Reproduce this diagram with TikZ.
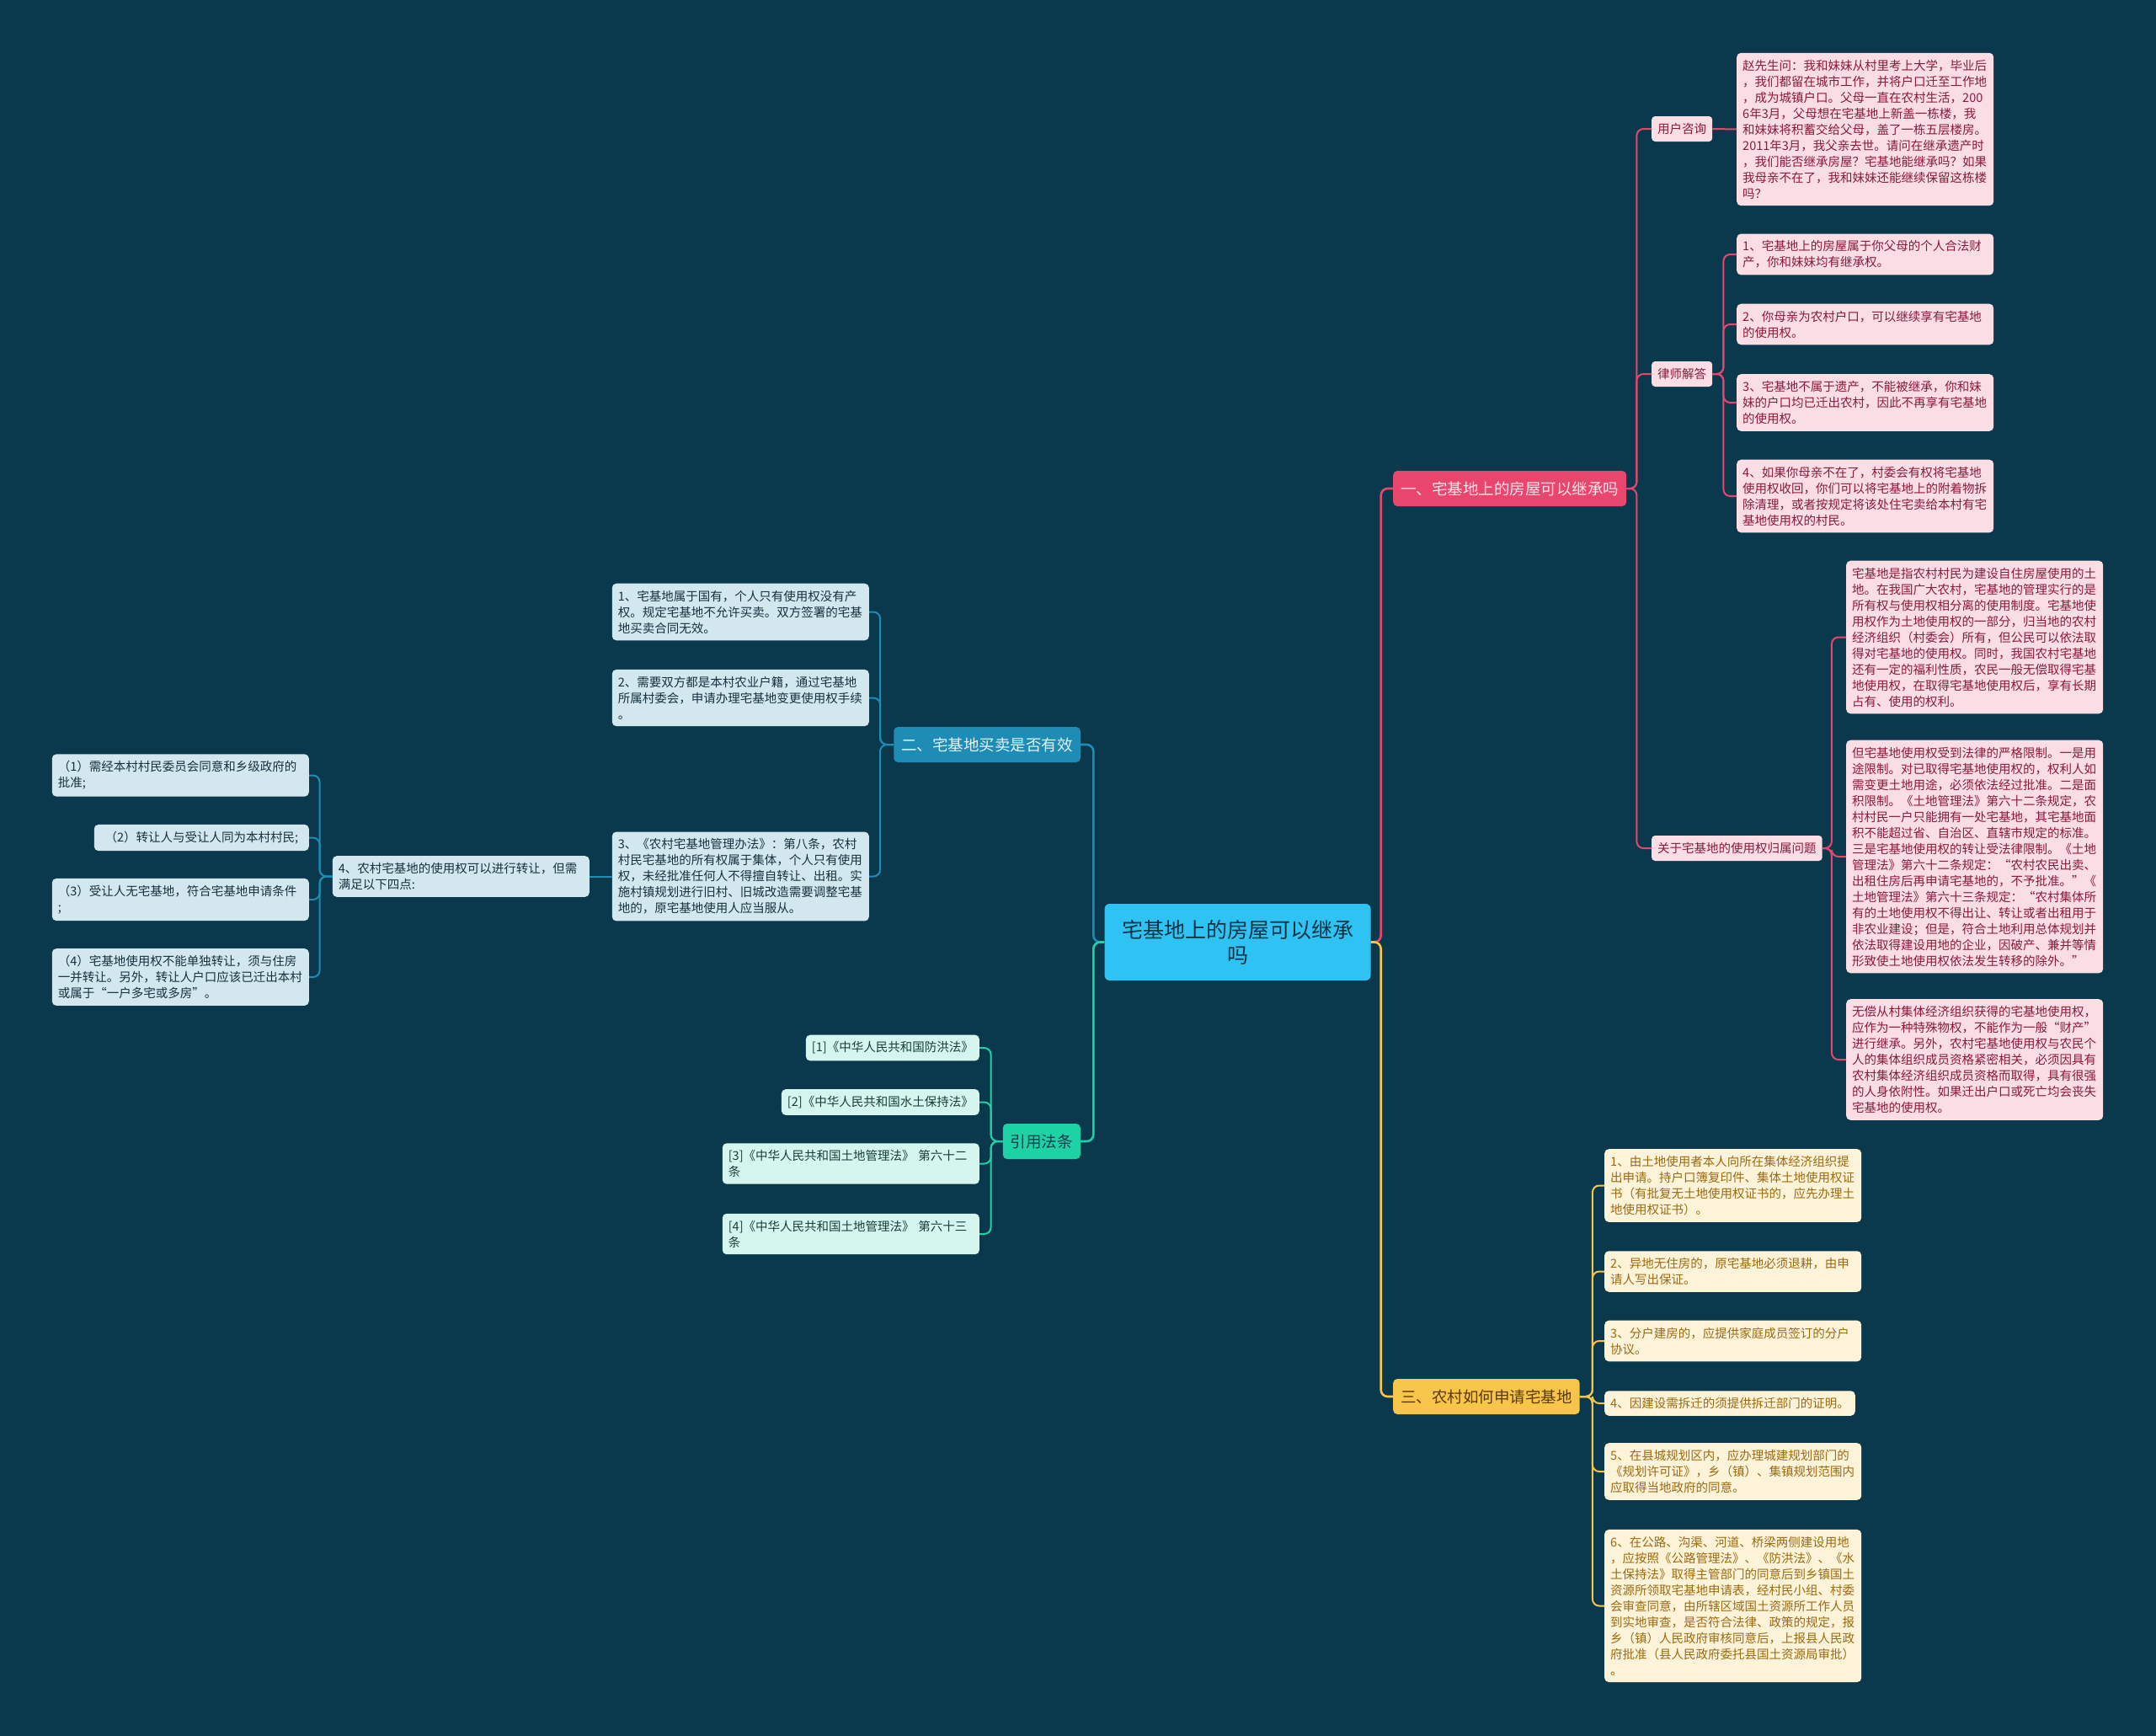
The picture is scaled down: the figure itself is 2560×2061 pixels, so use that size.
\documentclass[tikz,border=0pt]{standalone}
\usepackage{fontspec}
\setmainfont{Noto Sans CJK SC}
\definecolor{bgpaper}{HTML}{0A394D}
\definecolor{rootfill}{HTML}{2EC3F2}
\definecolor{rootink}{HTML}{0B3346}
\definecolor{redmain}{HTML}{E8466D}
\definecolor{redpale}{HTML}{FDE3EA}
\definecolor{redpaper}{HTML}{FBDDE4}
\definecolor{redink}{HTML}{8B1A3A}
\definecolor{bluemain}{HTML}{1E8CB5}
\definecolor{bluepale}{HTML}{E0F4FA}
\definecolor{bluepaper}{HTML}{D3E7EF}
\definecolor{blueink}{HTML}{16323F}
\definecolor{greenmain}{HTML}{1DD3A5}
\definecolor{greenpaper}{HTML}{D5F6EF}
\definecolor{greenink}{HTML}{173F3A}
\definecolor{goldmain}{HTML}{F6C54A}
\definecolor{goldink}{HTML}{5C3B00}
\definecolor{goldpaper}{HTML}{FDF3D9}
\definecolor{goldtext}{HTML}{9C6A10}
\tikzset{
  rootnode/.style={fill=rootfill,text=rootink,rounded corners=6pt,minimum width=316pt,
    minimum height=91pt,align=center,font=\fontsize{25}{30}\selectfont},
  topic/.style={rounded corners=5pt,minimum height=42pt,inner xsep=9pt,
    font=\fontsize{18.5}{22}\selectfont},
  topicred/.style={topic,fill=redmain,text=redpale},
  topicblue/.style={topic,fill=bluemain,text=bluepale},
  topicgreen/.style={topic,fill=greenmain,text=bgpaper},
  topicgold/.style={topic,fill=goldmain,text=goldink},
  tag/.style={fill=redpaper,text=redink,rounded corners=4pt,minimum height=30pt,
    inner xsep=7pt,font=\fontsize{14.5}{19}\selectfont},
  leaf/.style={rounded corners=5pt,inner xsep=7pt,inner ysep=8pt,align=left,
    font=\fontsize{14.5}{19}\selectfont},
  wide/.style={text width=291pt},
  redleaf/.style={leaf,fill=redpaper,text=redink},
  blueleaf/.style={leaf,fill=bluepaper,text=blueink},
  greenleaf/.style={leaf,fill=greenpaper,text=greenink},
  goldleaf/.style={leaf,fill=goldpaper,text=goldtext},
  link/.style={line width=2pt,rounded corners=8pt},
  trunk/.style={line width=2.6pt},
  redlink/.style={link,draw=redmain},
  bluelink/.style={link,draw=bluemain},
  greenlink/.style={link,draw=greenmain},
  goldlink/.style={link,draw=goldmain},
}
\begin{document}
\begin{tikzpicture}[x=1pt,y=-1pt]

\fill[bgpaper] (0,0) rectangle (2560,2061);
\useasboundingbox (0,0) rectangle (2560,2061);

\node[rootnode] (root) at (1469.5,1118.5) {宅基地上的房屋可以继承\\吗};

\node[topicred,anchor=west] (inherit) at (1654,580) {一、宅基地上的房屋可以继承吗};
\node[tag,anchor=west] (ask) at (1961,153) {用户咨询};
\node[tag,anchor=west] (answer) at (1961,444) {律师解答};
\node[tag,anchor=west] (owner) at (1961,1007) {关于宅基地的使用权归属问题};

\node[redleaf,wide,anchor=west] (question) at (2062,153.5)
{赵先生问：我和妹妹从村里考上大学，毕业后\\，我们都留在城市工作，并将户口迁至工作地\\，成为城镇户口。父母一直在农村生活，200\\6年3月，父母想在宅基地上新盖一栋楼，我\\和妹妹将积蓄交给父母，盖了一栋五层楼房。\\2011年3月，我父亲去世。请问在继承遗产时\\，我们能否继承房屋？宅基地能继承吗？如果\\我母亲不在了，我和妹妹还能继续保留这栋楼\\吗？};

\node[redleaf,wide,anchor=west] (reply1) at (2062,302)
{1、宅基地上的房屋属于你父母的个人合法财\\产，你和妹妹均有继承权。};
\node[redleaf,wide,anchor=west] (reply2) at (2062,385)
{2、你母亲为农村户口，可以继续享有宅基地\\的使用权。};
\node[redleaf,wide,anchor=west] (reply3) at (2062,478)
{3、宅基地不属于遗产，不能被继承，你和妹\\妹的户口均已迁出农村，因此不再享有宅基地\\的使用权。};
\node[redleaf,wide,anchor=west] (reply4) at (2062,589)
{4、如果你母亲不在了，村委会有权将宅基地\\使用权收回，你们可以将宅基地上的附着物拆\\除清理，或者按规定将该处住宅卖给本村有宅\\基地使用权的村民。};

\node[redleaf,wide,anchor=west] (own1) at (2192,756.5)
{宅基地是指农村村民为建设自住房屋使用的土\\地。在我国广大农村，宅基地的管理实行的是\\所有权与使用权相分离的使用制度。宅基地使\\用权作为土地使用权的一部分，归当地的农村\\经济组织（村委会）所有，但公民可以依法取\\得对宅基地的使用权。同时，我国农村宅基地\\还有一定的福利性质，农民一般无偿取得宅基\\地使用权，在取得宅基地使用权后，享有长期\\占有、使用的权利。};
\node[redleaf,wide,anchor=west] (own2) at (2192,1017)
{但宅基地使用权受到法律的严格限制。一是用\\途限制。对已取得宅基地使用权的，权利人如\\需变更土地用途，必须依法经过批准。二是面\\积限制。《土地管理法》第六十二条规定，农\\村村民一户只能拥有一处宅基地，其宅基地面\\积不能超过省、自治区、直辖市规定的标准。\\三是宅基地使用权的转让受法律限制。《土地\\管理法》第六十二条规定：“农村农民出卖、\\出租住房后再申请宅基地的，不予批准。”《\\土地管理法》第六十三条规定：“农村集体所\\有的土地使用权不得出让、转让或者出租用于\\非农业建设；但是，符合土地利用总体规划并\\依法取得建设用地的企业，因破产、兼并等情\\形致使土地使用权依法发生转移的除外。”};
\node[redleaf,wide,anchor=west] (own3) at (2192,1258)
{无偿从村集体经济组织获得的宅基地使用权，\\应作为一种特殊物权，不能作为一般“财产”\\进行继承。另外，农村宅基地使用权与农民个\\人的集体组织成员资格紧密相关，必须因具有\\农村集体经济组织成员资格而取得，具有很强\\的人身依附性。如果迁出户口或死亡均会丧失\\宅基地的使用权。};

\node[topicgold,anchor=west] (apply) at (1654,1658) {三、农村如何申请宅基地};
\node[goldleaf,wide,anchor=west] (apply1) at (1905,1407.5)
{1、由土地使用者本人向所在集体经济组织提\\出申请。持户口簿复印件、集体土地使用权证\\书（有批复无土地使用权证书的，应先办理土\\地使用权证书）。};
\node[goldleaf,wide,anchor=west] (apply2) at (1905,1509.5)
{2、异地无住房的，原宅基地必须退耕，由申\\请人写出保证。};
\node[goldleaf,wide,anchor=west] (apply3) at (1905,1592)
{3、分户建房的，应提供家庭成员签订的分户\\协议。};
\node[goldleaf,anchor=west] (apply4) at (1905,1666)
{4、因建设需拆迁的须提供拆迁部门的证明。};
\node[goldleaf,wide,anchor=west] (apply5) at (1905,1747)
{5、在县城规划区内，应办理城建规划部门的\\《规划许可证》，乡（镇）、集镇规划范围内\\应取得当地政府的同意。};
\node[goldleaf,wide,anchor=west] (apply6) at (1905,1906.5)
{6、在公路、沟渠、河道、桥梁两侧建设用地\\，应按照《公路管理法》、《防洪法》、《水\\土保持法》取得主管部门的同意后到乡镇国土\\资源所领取宅基地申请表，经村民小组、村委\\会审查同意，由所辖区域国土资源所工作人员\\到实地审查，是否符合法律、政策的规定，报\\乡（镇）人民政府审核同意后，上报县人民政\\府批准（县人民政府委托县国土资源局审批）\\。};

\node[topicblue,anchor=east] (trade) at (1283,884) {二、宅基地买卖是否有效};
\node[blueleaf,wide,anchor=east] (sale1) at (1032,726.5)
{1、宅基地属于国有，个人只有使用权没有产\\权。规定宅基地不允许买卖。双方签署的宅基\\地买卖合同无效。};
\node[blueleaf,wide,anchor=east] (sale2) at (1032,828.5)
{2、需要双方都是本村农业户籍，通过宅基地\\所属村委会，申请办理宅基地变更使用权手续\\。};
\node[blueleaf,wide,anchor=east] (sale3) at (1032,1040.5)
{3、《农村宅基地管理办法》：第八条，农村\\村民宅基地的所有权属于集体，个人只有使用\\权，未经批准任何人不得擅自转让、出租。实\\施村镇规划进行旧村、旧城改造需要调整宅基\\地的，原宅基地使用人应当服从。};
\node[blueleaf,wide,anchor=east] (sale4) at (700,1040.5)
{4、农村宅基地的使用权可以进行转让，但需\\满足以下四点:};
\node[blueleaf,wide,anchor=east] (cond1) at (367,920.5)
{（1）需经本村村民委员会同意和乡级政府的\\批准;};
\node[blueleaf,minimum width=255pt,align=right,anchor=east] (cond2) at (367,994.5)
{（2）转让人与受让人同为本村村民;};
\node[blueleaf,wide,anchor=east] (cond3) at (367,1068)
{（3）受让人无宅基地，符合宅基地申请条件\\;};
\node[blueleaf,wide,anchor=east] (cond4) at (367,1160)
{（4）宅基地使用权不能单独转让，须与住房\\一并转让。另外，转让人户口应该已迁出本村\\或属于“一户多宅或多房”。};

\node[topicgreen,anchor=east] (laws) at (1283,1355) {引用法条};
\node[greenleaf,anchor=east] (law1) at (1163,1244) {[1]《中华人民共和国防洪法》};
\node[greenleaf,anchor=east] (law2) at (1163,1308.5) {[2]《中华人民共和国水土保持法》};
\node[greenleaf,wide,anchor=east] (law3) at (1163,1381.5)
{[3]《中华人民共和国土地管理法》 第六十二\\条};
\node[greenleaf,wide,anchor=east] (law4) at (1163,1465)
{[4]《中华人民共和国土地管理法》 第六十三\\条};

\draw[redlink,trunk] (root.east) -- ++(12,0) |- (inherit.west);
\draw[goldlink,trunk] (root.east) -- ++(12,0) |- (apply.west);
\draw[bluelink,trunk] (root.west) -- ++(-13,0) |- (trade.east);
\draw[greenlink,trunk] (root.west) -- ++(-13,0) |- (laws.east);

\draw[redlink] (inherit.east) -- ++(12,0) |- (ask.west);
\draw[redlink] (inherit.east) -- ++(12,0) |- (answer.west);
\draw[redlink] (inherit.east) -- ++(12,0) |- (owner.west);
\draw[redlink] (ask.east) -- (question.west);
\draw[redlink] (answer.east) -- ++(13,0) |- (reply1.west);
\draw[redlink] (answer.east) -- ++(13,0) |- (reply2.west);
\draw[redlink] (answer.east) -- ++(13,0) |- (reply3.west);
\draw[redlink] (answer.east) -- ++(13,0) |- (reply4.west);
\draw[redlink] (owner.east) -- ++(11,0) |- (own1.west);
\draw[redlink] (owner.east) -- ++(11,0) |- (own2.west);
\draw[redlink] (owner.east) -- ++(11,0) |- (own3.west);

\draw[goldlink] (apply.east) -- ++(15,0) |- (apply1.west);
\draw[goldlink] (apply.east) -- ++(15,0) |- (apply2.west);
\draw[goldlink] (apply.east) -- ++(15,0) |- (apply3.west);
\draw[goldlink] (apply.east) -- ++(15,0) |- (apply4.west);
\draw[goldlink] (apply.east) -- ++(15,0) |- (apply5.west);
\draw[goldlink] (apply.east) -- ++(15,0) |- (apply6.west);

\draw[bluelink] (trade.west) -- ++(-16,0) |- (sale1.east);
\draw[bluelink] (trade.west) -- ++(-16,0) |- (sale2.east);
\draw[bluelink] (trade.west) -- ++(-16,0) |- (sale3.east);
\draw[bluelink] (sale3.west) -- (sale4.east);
\draw[bluelink] (sale4.west) -- ++(-15,0) |- (cond1.east);
\draw[bluelink] (sale4.west) -- ++(-15,0) |- (cond2.east);
\draw[bluelink] (sale4.west) -- ++(-15,0) |- (cond3.east);
\draw[bluelink] (sale4.west) -- ++(-15,0) |- (cond4.east);

\draw[greenlink] (laws.west) -- ++(-14,0) |- (law1.east);
\draw[greenlink] (laws.west) -- ++(-14,0) |- (law2.east);
\draw[greenlink] (laws.west) -- ++(-14,0) |- (law3.east);
\draw[greenlink] (laws.west) -- ++(-14,0) |- (law4.east);

\end{tikzpicture}
\end{document}
